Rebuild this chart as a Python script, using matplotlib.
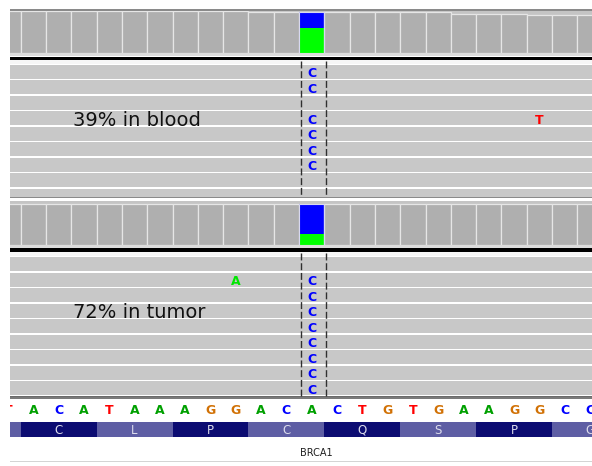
import matplotlib.pyplot as plt
from matplotlib.patches import Rectangle

# Reference bases, one per column; the first column (-1) is cut off at the left edge
ref_seq = "TACATAAAGGACACTGTGAAGGCC"
first_col = -1

# Translated codons (minus strand), one per 3 columns starting at column -3
amino_acids = ["", "C", "L", "P", "C", "Q", "S", "P", "G"]
first_codon_col = -3

# Read depth per column, columns -1..22
cov_blood = [63, 63, 63, 63, 63, 63, 63, 63, 63, 63,
             61, 61, 61, 61, 61, 61, 61, 61,
             59, 59, 59, 57, 57, 57]
cov_tumor = [62, 62, 62, 62, 62, 62, 62, 62, 62, 62, 62, 62,
             62, 62, 62, 62, 62, 62, 62, 62, 62, 62, 62, 62]

# Allele split at the variant column (C on top of A)
variant_col = 11
blood_split = [("C", 24), ("A", 37)]
tumor_split = [("C", 45), ("A", 17)]

# Mismatches in the visible reads: (row, column, base)
blood_mismatch = [(0, 11, "C"), (1, 11, "C"), (3, 11, "C"), (4, 11, "C"),
                  (5, 11, "C"), (6, 11, "C"), (3, 20, "T")]
tumor_mismatch = [(1, 8, "A"), (1, 11, "C"), (2, 11, "C"), (3, 11, "C"),
                  (4, 11, "C"), (5, 11, "C"), (6, 11, "C"), (7, 11, "C"),
                  (8, 11, "C")]

labels = ["39% in blood", "72% in tumor"]
gene = "BRCA1"

X0, CW = 20.7, 25.3          # left edge of column 0, column width
ROW_H, ROW_STEP, N_ROWS = 14.0, 15.55, 9

read_col = {"A": "#00e600", "C": "#0000ff", "G": "#d17105", "T": "#ff0000"}
seq_col = {"A": "#00a000", "C": "#0000ff", "G": "#d17105", "T": "#ff0000"}
cov_col = {"A": "#00ff00", "C": "#0000ff"}


def col_x(i):
    return X0 + CW * i


fig = plt.figure(figsize=(5.92, 4.66), dpi=100)
ax = fig.add_axes([0, 0, 1, 1])
ax.set_xlim(0, 592)
ax.set_ylim(466, 0)
ax.axis("off")


def rect(x, y, w, h, fc, ec="none", lw=0, z=1):
    ax.add_patch(Rectangle((x, y), w, h, facecolor=fc, edgecolor=ec,
                           linewidth=lw, zorder=z))


def coverage(cov, split, base_y, px_per, top_line, panel_top):
    rect(0, panel_top, 592, base_y - panel_top, "#c4c4c4", z=0)
    for k, c in enumerate(cov):
        i = first_col + k
        h = c * px_per
        x = col_x(i)
        if i == variant_col:
            y = base_y - h
            for b, n in split:
                rect(x, y, CW, n * px_per, cov_col[b], z=2)
                y += n * px_per
            rect(x, base_y - h, CW, h, "none", ec="#d8d8f0", lw=0.8, z=3)
        else:
            rect(x, base_y - h, CW, h, "#afafaf", ec="#e6e6e6", lw=0.9, z=2)
    rect(0, top_line, 592, 1.6, "#8a8a8a", z=4)
    rect(0, base_y, 592, 2.5, "#dcdcdc", z=4)
    rect(0, base_y + 3.2, 592, 3.6, "#000000", z=4)
    rect(0, base_y + 6.8, 592, 4.2, "#f6f6f6", z=4)


def reads(top, bottom, mismatches, label, label_y):
    rect(0, top, 592, bottom - top, "#ffffff", z=0)
    for r in range(N_ROWS):
        y = top + ROW_STEP * r
        h = min(ROW_H, bottom - y)
        rect(0, y, 592, h, "#c8c8c8", z=1)
    for r, i, b in mismatches:
        ax.text(col_x(i) + CW / 2, top + ROW_STEP * r + ROW_H / 2 + 2.0, b,
                color=read_col[b], fontsize=9, fontweight="bold",
                ha="center", va="center", zorder=5)
    for xv in (300.7, 325.7):
        ax.plot([xv, xv], [top - 4, bottom], color="#303030", lw=1.0,
                dashes=(5, 2), zorder=6)
    rect(0, bottom, 592, 1.4, "#6a6a6a", z=4)
    ax.text(73, label_y, label, fontsize=14, color="#111111",
            ha="left", va="center", zorder=6)


# blood: coverage + reads
coverage(cov_blood, blood_split, 53.3, 42.3 / 63, 9.2, 10.8)
reads(64.5, 196.7, blood_mismatch, labels[0], 120)

# tumor: coverage + reads
rect(0, 198.1, 592, 2.4, "#ffffff", z=4)
coverage(cov_tumor, tumor_split, 245.0, 41.5 / 62, 196.7, 200.5)
reads(257.0, 396.0, tumor_mismatch, labels[1], 313)

# reference sequence
rect(0, 397.4, 592, 1.3, "#7a7a7a", z=4)
for k, b in enumerate(ref_seq):
    i = first_col + k
    ax.text(col_x(i) + CW / 2, 411, b, color=seq_col[b], fontsize=9,
            fontweight="bold", ha="center", va="center", zorder=5)

# amino acid track
for k, aa in enumerate(amino_acids):
    i = first_codon_col + 3 * k
    fc = "#0c0c72" if k % 2 == 1 else "#5e5ea4"
    rect(col_x(i), 422.3, 3 * CW, 15.0, fc, z=2)
    if aa:
        ax.text(col_x(i) + 1.5 * CW, 430, aa, color="#dcdcec", fontsize=8.5,
                ha="center", va="center", zorder=5)

# gene name
ax.text(316, 453.5, gene, fontsize=7, color="#202020",
        ha="center", va="center", zorder=5)
rect(0, 460.5, 592, 1.2, "#d4d4d4", z=4)

# left margin
rect(0, 0, 10, 466, "#ffffff", z=10)

fig.savefig("out.png", dpi=100)
